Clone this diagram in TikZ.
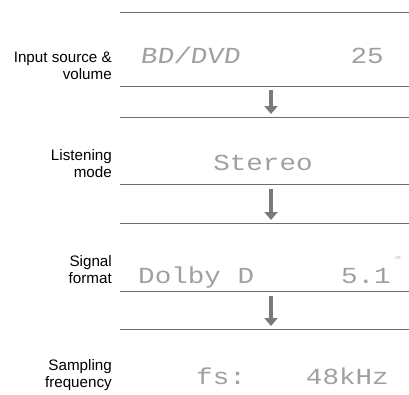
\documentclass[tikz,border=0pt]{standalone}
\usepackage{fontspec}
\setmainfont{Liberation Sans}
\newfontfamily\dotf[FakeStretch=1.2]{Liberation Mono}
\usetikzlibrary{arrows.meta}
\definecolor{rule}{HTML}{6E6E6E}
\definecolor{arrowc}{HTML}{7A7A7A}
\definecolor{dotc}{HTML}{A0A0A0}
\tikzset{
  lbl/.style={anchor=base east, inner sep=0pt, align=right, font=\fontsize{15.2}{17}\selectfont, text=black},
  disp/.style={inner sep=0pt, font=\dotf\fontsize{23}{23}\selectfont, text=dotc},
  rulel/.style={draw=rule, line width=1pt},
  flow/.style={draw=arrowc, line width=4.5pt, -{Triangle[width=13pt,length=8pt]}}
}
\begin{document}
\begin{tikzpicture}[x=1pt,y=-1pt]
\useasboundingbox (0,0) rectangle (409,394);
% rules
\foreach \n/\y in {t/12, a1/86, a2/117, b1/184, b2/223, c1/291, c2/329} {
  \coordinate (\n w) at (120,\y);
  \coordinate (\n e) at (409,\y);
  \draw[rulel] (\n w) -- (\n e);
}
% arrows
\coordinate (a1s) at (271,90);  \coordinate (a2s) at (271,114);
\coordinate (b1s) at (271,189); \coordinate (b2s) at (271,220);
\coordinate (c1s) at (271,296); \coordinate (c2s) at (271,326);
\draw[flow] (a1s) -- (a2s);
\draw[flow] (b1s) -- (b2s);
\draw[flow] (c1s) -- (c2s);
% labels (anchored at the baseline of the last line)
\node[lbl] (l1) at (112,79) {Input source \&\\volume};
\node[lbl] (l2) at (112,177) {Listening\\mode};
\node[lbl] (l3) at (112,283) {Signal\\format};
\node[lbl] (l4) at (112,387) {Sampling\\frequency};
% display texts
\node[disp, anchor=base west] (d1) at (140,63) {\addfontfeature{FakeSlant=0.15}BD/DVD};
\node[disp, anchor=base east] (d1r) at (384,63) {25};
\node[disp, anchor=base] (d2) at (263,170) {Stereo};
\node[disp, anchor=base west] (d3) at (138,283) {Dolby D};
\node[disp, anchor=base east] (d3r) at (391,283) {5.1};
\node[inner sep=0pt, font=\fontsize{5}{5}\selectfont, text=dotc] (d3c) at (398,258) {ch};
\node[disp, anchor=base west] (d4) at (196,384) {fs:};
\node[disp, anchor=base east] (d4r) at (389,384) {48kHz};
\end{tikzpicture}
\end{document}
